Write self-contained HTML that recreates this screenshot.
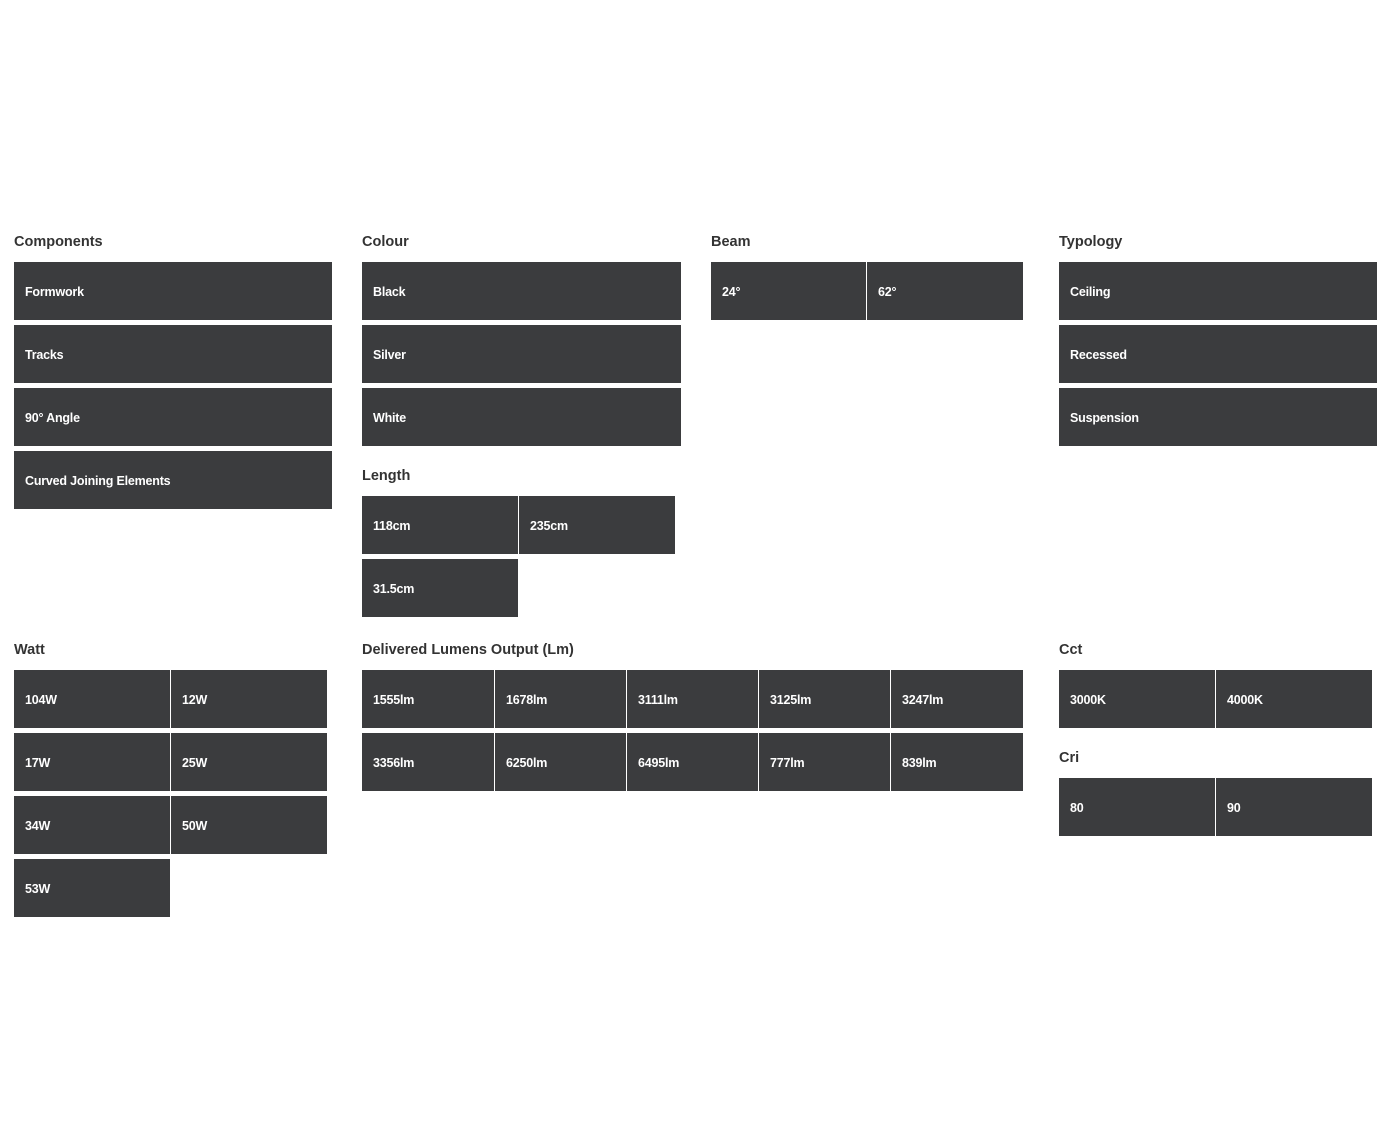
<!DOCTYPE html>
<html><head><meta charset="utf-8"><style>
body{margin:0;width:1384px;height:1133px;background:#fff;position:relative;font-family:"Liberation Sans",sans-serif;}
.h{position:absolute;font-weight:bold;font-size:14.5px;color:#333;line-height:18px;}
.b{position:absolute;height:58px;background:#3b3c3e;color:#fff;font-weight:bold;font-size:12.5px;line-height:60px;padding-left:11px;box-sizing:border-box;letter-spacing:-0.2px;}
</style></head><body>
<div class="h" style="left:14px;top:233px">Components</div>
<div class="b" style="left:14px;top:262px;width:318px">Formwork</div>
<div class="b" style="left:14px;top:325px;width:318px">Tracks</div>
<div class="b" style="left:14px;top:388px;width:318px">90° Angle</div>
<div class="b" style="left:14px;top:451px;width:318px">Curved Joining Elements</div>

<div class="h" style="left:362px;top:233px">Colour</div>
<div class="b" style="left:362px;top:262px;width:319px">Black</div>
<div class="b" style="left:362px;top:325px;width:319px">Silver</div>
<div class="b" style="left:362px;top:388px;width:319px">White</div>

<div class="h" style="left:362px;top:467px">Length</div>
<div class="b" style="left:362px;top:496px;width:156px">118cm</div>
<div class="b" style="left:519px;top:496px;width:156px">235cm</div>
<div class="b" style="left:362px;top:559px;width:156px">31.5cm</div>

<div class="h" style="left:711px;top:233px">Beam</div>
<div class="b" style="left:711px;top:262px;width:155px">24°</div>
<div class="b" style="left:867px;top:262px;width:156px">62°</div>

<div class="h" style="left:1059px;top:233px">Typology</div>
<div class="b" style="left:1059px;top:262px;width:318px">Ceiling</div>
<div class="b" style="left:1059px;top:325px;width:318px">Recessed</div>
<div class="b" style="left:1059px;top:388px;width:318px">Suspension</div>

<div class="h" style="left:14px;top:641px">Watt</div>
<div class="b" style="left:14px;top:670px;width:156px">104W</div>
<div class="b" style="left:171px;top:670px;width:156px">12W</div>
<div class="b" style="left:14px;top:733px;width:156px">17W</div>
<div class="b" style="left:171px;top:733px;width:156px">25W</div>
<div class="b" style="left:14px;top:796px;width:156px">34W</div>
<div class="b" style="left:171px;top:796px;width:156px">50W</div>
<div class="b" style="left:14px;top:859px;width:156px">53W</div>

<div class="h" style="left:362px;top:641px">Delivered Lumens Output (Lm)</div>
<div class="b" style="left:362px;top:670px;width:132px">1555lm</div>
<div class="b" style="left:495px;top:670px;width:131px">1678lm</div>
<div class="b" style="left:627px;top:670px;width:131px">3111lm</div>
<div class="b" style="left:759px;top:670px;width:131px">3125lm</div>
<div class="b" style="left:891px;top:670px;width:132px">3247lm</div>
<div class="b" style="left:362px;top:733px;width:132px">3356lm</div>
<div class="b" style="left:495px;top:733px;width:131px">6250lm</div>
<div class="b" style="left:627px;top:733px;width:131px">6495lm</div>
<div class="b" style="left:759px;top:733px;width:131px">777lm</div>
<div class="b" style="left:891px;top:733px;width:132px">839lm</div>

<div class="h" style="left:1059px;top:641px">Cct</div>
<div class="b" style="left:1059px;top:670px;width:156px">3000K</div>
<div class="b" style="left:1216px;top:670px;width:156px">4000K</div>

<div class="h" style="left:1059px;top:749px">Cri</div>
<div class="b" style="left:1059px;top:778px;width:156px">80</div>
<div class="b" style="left:1216px;top:778px;width:156px">90</div>
</body></html>
